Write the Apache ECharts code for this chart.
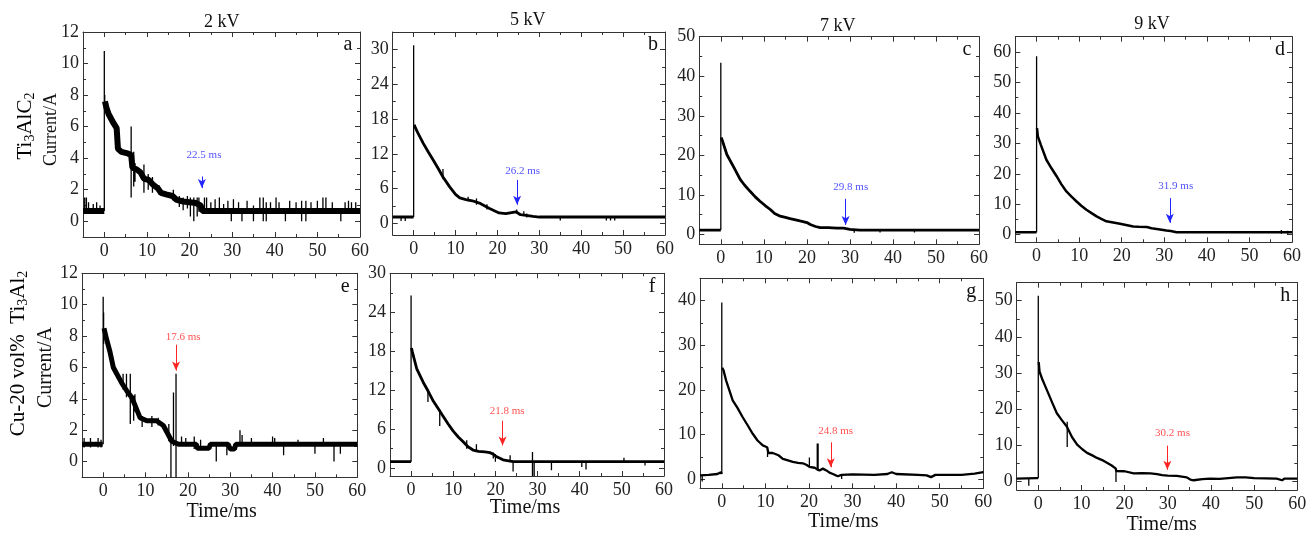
<!DOCTYPE html>
<html>
<head>
<meta charset="utf-8">
<script src="https://cdn.jsdelivr.net/npm/echarts@6/dist/echarts.min.js"></script>
<style>html,body{margin:0;padding:0;background:#fff}#c{width:1316px;height:537px}</style>
</head>
<body>
<div id="c"></div>
<script>
// ---------- tick values ----------
const xTicks = [0, 10, 20, 30, 40, 50, 60];
const xMinor = [-5, 5, 15, 25, 35, 45, 55];
const yTicks2 = [0, 2, 4, 6, 8, 10, 12];
const yMinor2 = [-1, 1, 3, 5, 7, 9, 11];
const yTicks6 = [0, 6, 12, 18, 24, 30];
const yMinor6 = [3, 9, 15, 21, 27, 33];
const yTicks10_50 = [0, 10, 20, 30, 40, 50];
const yTicks10_60 = [0, 10, 20, 30, 40, 50, 60];
const yTicks10_40 = [0, 10, 20, 30, 40];
const yMinor10 = [5, 15, 25, 35, 45, 55, 65];

const columnTitles = ['2 kV', '5 kV', '7 kV', '9 kV'];
const panelLetters = ['a', 'b', 'c', 'd', 'e', 'f', 'g', 'h'];

// ---------- traces [time ms, current A]; '-' breaks the line ----------
const aTrace = [[-5,0.65],[0,0.65],[0,'-'],[0.15,7.6],[0.5,7.2],[1,6.8],[1.6,6.5],[2.2,6.2],[2.9,5.9],[3.2,4.6],[4.0,4.4],[5.5,4.3],[6.3,4.2],[6.6,3.4],[7.5,3.3],[8.5,3.1],[9.3,2.7],[10.5,2.6],[11.5,2.3],[12.5,2.1],[13.3,1.8],[14.5,1.7],[16,1.6],[17,1.35],[18.5,1.25],[20,1.2],[21.5,1.15],[22.6,1.0],[23,0.65],[60,0.65]];
const aSpikes = [[0,0.65,10.8],[0.1,7.0,8.0],[-4.6,0.6,1.5],[-4.2,0.6,1.5],[-3.7,0.6,1.2],[-2.6,0.6,1.1],[-1.8,0.6,1.2],[-1,0.6,1.0],[6.3,1.5,6.0],[6.9,2.2,4.4],[7.2,2.5,3.7],[9.3,1.8,3.6],[10.3,2.0,3.0],[11.3,1.8,2.8],[12.8,1.7,2.3],[16.2,1.3,2.0],[17.6,0.9,1.6],[18.5,0.7,1.5],[19.5,0.8,1.6],[20.2,0.3,1.5],[21,0.0,1.5],[21.8,0.3,1.5],[22.2,0.6,1.5],[23.5,0.6,1.5],[24,0.6,1.5],[25,0.6,1.2],[26,0.6,1.4],[27,0.6,1.5],[28,0.6,1.1],[29,0.6,1.3],[29.8,0.0,0.6],[30.3,0.6,1.4],[31.5,0.6,1.2],[32.3,0.0,0.6],[33.5,0.6,1.3],[35,0.0,1.0],[36.5,0.6,1.5],[37.3,0.0,1.5],[38,0.0,1.2],[39,0.6,1.2],[40.3,0.6,1.5],[41,0.6,1.2],[42.5,0.0,0.6],[43.5,0.6,1.3],[45,0.6,1.2],[46.3,0.0,1.3],[47.3,0.0,1.3],[48.5,0.6,1.2],[50,0.6,1.3],[51.3,0.6,1.5],[52,0.6,1.5],[53.5,0.6,1.2],[55.5,0.0,0.6],[56.5,0.6,1.2],[57.3,0.6,1.3],[58,0.6,1.2],[59,0.6,1.2]];

const bTrace = [[-5,1.1],[0,1.1],[0,'-'],[0.15,17],[0.4,16.5],[1,15.6],[2.3,13.8],[3.5,12.3],[4.7,10.9],[6,9.3],[7,8.0],[8.6,6.3],[10,5.0],[11,4.4],[12.5,4.1],[14,3.9],[15.7,3.5],[17,3.0],[18,2.6],[19.5,2.1],[20.4,1.8],[22,1.7],[24.4,2.0],[25.5,1.5],[26.8,1.4],[28.5,1.2],[30,1.1],[60,1.1]];
const bSpikes = [[0,1.1,30.7],[-3,0.4,1.1],[-2,0.4,1.1],[7,7.6,9.4],[13,3.8,4.6],[15,3.2,4.3],[17.5,2.4,3.3],[24.6,1.7,2.4],[26.3,1.3,2.1],[27,1.0,1.7],[35,0.5,1.1],[46,0.5,1.1],[47,0.5,1.1],[48,0.5,1.1]];

const cTrace = [[-5,1.1],[0,1.1],[0,'-'],[0.1,24.5],[0.4,23.6],[1.4,20.2],[3,17],[4.5,13.9],[5.5,12.5],[6.8,10.9],[8,9.5],[9.1,8.4],[10.3,7.3],[11.5,6.3],[12.5,5.3],[13.8,4.6],[15,4.3],[16.1,4.0],[18.4,3.4],[20,3.0],[20.8,2.5],[22,2.0],[23.1,1.7],[25,1.7],[27,1.6],[28.5,1.6],[30,1.3],[32.3,1.1],[60,1.1]];
const cSpikes = [[0,1.1,43.4],[31,0.4,1.3],[37,0.5,1.1],[45,0.5,1.1]];

const dTrace = [[-5,0.8],[0,0.8],[0,'-'],[0.1,35],[0.3,32.3],[1,29.5],[2.3,24.6],[3.5,21.8],[4.7,19.2],[5.8,16.6],[7,14.2],[8.2,12.5],[9.4,10.9],[10.5,9.5],[11.7,8.2],[13,7],[14.1,6.0],[15.2,5.2],[16.4,4.4],[18,4.0],[19.6,3.6],[21,3.2],[22.7,2.7],[24,2.6],[25.9,2.5],[27,2.1],[28.2,1.9],[30.5,1.4],[31.5,1.2],[32.9,0.8],[60,0.8]];
const dSpikes = [[0,0.8,58.6],[57.5,0.3,1.5],[59,0.3,1.3]];

const eTrace = [[-5,1.1],[-0.1,1.1],[0,'-'],[0.2,8.5],[0.8,7.8],[1.6,7.0],[2.4,6.0],[3.2,5.6],[4.4,5.0],[5.6,4.5],[6.7,4.1],[7.5,3.6],[8.7,2.8],[10.3,2.6],[12.6,2.6],[14.2,2.3],[15,1.9],[16.2,1.3],[17.8,1.1],[22,1.1],[22.2,0.85],[25,0.85],[25.3,1.1],[29.5,1.1],[30,0.8],[31,0.8],[31.3,1.1],[60,1.1]];
const eSpikes = [[0,1.1,10.5],[0.1,7.5,9.5],[-4.5,0.9,1.5],[-3,0.9,1.5],[-1.2,0.9,1.5],[-0.5,0.9,1.4],[3.5,5.3,5.6],[4.7,4.6,5.6],[5.5,4.1,5.6],[6.4,2.4,5.6],[7.2,2.6,4.2],[7.5,3.2,4.3],[9.2,2.2,2.9],[11.5,2.2,2.9],[13,2.3,2.8],[15.5,1.3,2.4],[16.0,-1,1.2],[16.6,1.0,4.4],[17.2,-1,5.6],[18.5,1.0,1.6],[19.5,1.0,1.5],[21.5,0.8,1.6],[23,1.0,1.4],[26.7,0.0,1.0],[29.2,0.4,1.0],[32.3,1.0,2.0],[32.8,1.0,1.7],[35,1.0,1.5],[40,1.0,1.6],[40.5,1.0,1.5],[42.6,0.4,1.0],[46,1.0,1.4],[50,0.5,1.0],[52,1.0,1.5],[54.5,0.0,1.0],[56,0.5,1.0]];

const fTrace = [[-5,1.0],[0,1.0],[0,'-'],[0.1,18.5],[0.3,17.9],[1.35,15.3],[2.9,13.2],[4.1,11.8],[5.3,10.3],[6.5,9.1],[7.6,8.0],[8.8,6.8],[10,5.7],[11.2,4.8],[12.3,4.1],[13.5,3.3],[14.7,2.8],[16,2.6],[17.5,2.5],[18.7,2.4],[19.4,2.2],[20.2,1.8],[21.2,1.5],[21.8,1.3],[24.2,1.0],[60,1.0]];
const fSpikes = [[0,1.0,26.6],[4,10.2,12.0],[6.8,6.5,9.0],[13.2,3.0,4.3],[15.5,2.6,3.7],[19.5,1.5,2.4],[20,1.0,2.2],[23.5,1.0,2.0],[24.2,-0.5,1.0],[28.8,-1.2,2.5],[29.2,-1.2,1.0],[33.3,-0.3,1.0],[40.5,0.2,1.0],[41.5,-0.2,1.0],[50.5,1.0,1.6],[55.5,0.4,1.0]];

const gTrace = [[-5,0.9],[-3,1.0],[-1,1.2],[-0.2,1.6],[0,1.2],[0,'-'],[0.1,25],[0.4,24.4],[1.0,22.1],[2.5,17.7],[3.6,16],[4.8,13.9],[6,12],[7.1,10.2],[8.2,8.7],[9.4,7.6],[10.4,7.2],[10.7,5.9],[11.7,5.9],[13,5.4],[14,4.6],[15,4.3],[16.3,3.9],[17.5,3.7],[18.6,3.6],[19.5,3.2],[20.1,2.8],[21.3,2.6],[22.4,2.0],[23.2,2.4],[24,2.0],[24.7,1.5],[25.5,1.2],[26.6,0.7],[27.5,1.0],[30,1.1],[35,1.0],[38,1.2],[39,1.6],[40,1.2],[45,1.0],[47,0.9],[48,0.5],[49,1.0],[55,1.0],[58,1.3],[60,1.6]];
const gSpikes = [[0,1.2,39.6],[-4.5,-0.5,1.0],[10.5,5.0,7.2],[20.1,2.8,4.9],[21.9,2.0,8.0],[22.1,2.0,8.0],[27.5,0.1,1.0]];

const hTrace = [[-5,0.65],[-0.5,0.8],[0,0.8],[0,'-'],[0.1,33],[0.3,30.3],[1,28],[2.0,25.2],[3.2,21.8],[4.3,18.8],[5.5,16.8],[6.6,15.1],[7.8,12.2],[9.0,10.1],[10.2,8.8],[11.3,7.8],[12.5,7.1],[13.6,6.4],[14.8,5.8],[16.0,5.0],[17,4.3],[17.9,3.5],[18.1,2.75],[20,2.7],[22.1,2.1],[24,2.2],[26,2.1],[27.5,1.9],[28.7,1.6],[30,1.5],[32.1,1.4],[34.4,1.0],[35.2,0.4],[36,0.2],[38,0.5],[39.8,0.65],[42,0.6],[44,0.8],[46,1.0],[48,1.0],[50,0.8],[55.2,0.65],[56.5,0.2],[57,0.65],[60,0.65]];
const hSpikes = [[0,0.8,51.4],[-2.2,-1.3,0.65],[6.7,9.4,16.4],[18,-0.3,3.5]];

// ---------- annotations ----------
const annText   = ['22.5 ms', '26.2 ms', '29.8 ms', '31.9 ms', '17.6 ms', '21.8 ms', '24.8 ms', '30.2 ms'];
const annLabelX = [23.4, 26.0, 30.2, 32.7, 18.9, 22.8, 26.1, 31.1];
const annLabelY = [4.2, 9.1, 12.0, 16.1, 7.95, 8.8, 10.8, 13.3];
const arrowX    = [22.9, 24.7, 29.0, 31.3, 17.2, 21.7, 25.0, 29.9];
const arrowTop  = [2.84, 7.5, 9.0, 12.0, 7.45, 7.3, 8.3, 9.8];
const arrowBot  = [2.1, 3.2, 2.4, 3.9, 5.8, 3.5, 2.7, 3.1];

// ---------- layout ----------
const FONT = 'Liberation Serif';
const BLUE = '#2424ff', RED = '#ff2424';
const panels = [
  {g:{left:83,   top:32,    width:277,   height:205},   yMin:-1,   yMax:12, yT:yTicks2,    yM:yMinor2, tr:aTrace, sp:aSpikes, lw:6,   col:BLUE},
  {g:{left:392.7,top:32,    width:272.3, height:203},   yMin:-2,   yMax:33, yT:yTicks6,    yM:yMinor6, tr:bTrace, sp:bSpikes, lw:2.8, col:BLUE},
  {g:{left:699.3,top:36.7,  width:279.7, height:207.6}, yMin:-2.5, yMax:50, yT:yTicks10_50,yM:yMinor10,tr:cTrace, sp:cSpikes, lw:2.8, col:BLUE},
  {g:{left:1015.3,top:36.7, width:276.7, height:205.6}, yMin:-2.5, yMax:65, yT:yTicks10_60,yM:yMinor10,tr:dTrace, sp:dSpikes, lw:2.5, col:BLUE},
  {g:{left:82,   top:273.3, width:275.3, height:204},   yMin:-1,   yMax:12, yT:yTicks2,    yM:yMinor2, tr:eTrace, sp:eSpikes, lw:5,   col:RED},
  {g:{left:390,  top:273.3, width:274,   height:202.7}, yMin:-1.2, yMax:30, yT:yTicks6,    yM:yMinor6, tr:fTrace, sp:fSpikes, lw:2.8, col:RED},
  {g:{left:700,  top:278.3, width:283.3, height:210},   yMin:-2,   yMax:45, yT:yTicks10_40,yM:yMinor10,tr:gTrace, sp:gSpikes, lw:2.3, col:RED},
  {g:{left:1016.7,top:282.7,width:280.6, height:207.3}, yMin:-2.5, yMax:55, yT:yTicks10_50,yM:yMinor10,tr:hTrace, sp:hSpikes, lw:2.3, col:RED}
];

const AX = '#333';
const grids = [], xAxes = [], yAxes = [], series = [], graphics = [];

function mkAxis(dim, i, pos, ticks, minor, min, max, labels) {
  return {
    gridIndex: i, type: 'value', min: min, max: max, position: pos,
    axisLine: {show: !minor, onZero: false, lineStyle: {color: AX, width: 1}},
    axisTick: {show: true, inside: true, length: minor ? 3 : 5, customValues: ticks, lineStyle: {color: AX, width: 1}},
    axisLabel: {show: labels, customValues: ticks, fontFamily: FONT, fontSize: 18, color: '#222', margin: dim === 'x' ? 5 : 4},
    splitLine: {show: false}, minorTick: {show: false}
  };
}

panels.forEach((p, i) => {
  grids.push(Object.assign({containLabel: false}, p.g));
  xAxes.push(mkAxis('x', i, 'bottom', xTicks, false, -5, 60, true));
  xAxes.push(mkAxis('x', i, 'top', xTicks, false, -5, 60, false));
  xAxes.push(mkAxis('x', i, 'bottom', xMinor, true, -5, 60, false));
  xAxes.push(mkAxis('x', i, 'top', xMinor, true, -5, 60, false));
  yAxes.push(mkAxis('y', i, 'left', p.yT, false, p.yMin, p.yMax, true));
  yAxes.push(mkAxis('y', i, 'right', p.yT, false, p.yMin, p.yMax, false));
  yAxes.push(mkAxis('y', i, 'left', p.yM, true, p.yMin, p.yMax, false));
  yAxes.push(mkAxis('y', i, 'right', p.yM, true, p.yMin, p.yMax, false));

  const xi = 4 * i, yi = 4 * i;
  series.push({type: 'line', xAxisIndex: xi, yAxisIndex: yi, data: p.tr, showSymbol: false, symbol: 'none',
    connectNulls: false, lineStyle: {color: '#000', width: p.lw, join: 'bevel'}, animation: false, silent: true});
  const spikeData = [];
  p.sp.forEach(s => { spikeData.push([s[0], s[1]], [s[0], s[2]], [s[0], '-']); });
  series.push({type: 'line', xAxisIndex: xi, yAxisIndex: yi, data: spikeData, showSymbol: false, symbol: 'none',
    connectNulls: false, lineStyle: {color: '#000', width: 1.3}, animation: false, silent: true});
  series.push({type: 'scatter', xAxisIndex: xi, yAxisIndex: yi, data: [[annLabelX[i], annLabelY[i]]],
    symbolSize: 1, itemStyle: {color: 'rgba(0,0,0,0)'}, animation: false, silent: true,
    label: {show: true, position: 'inside', formatter: annText[i], color: p.col, fontFamily: FONT, fontSize: 11},
    markLine: {silent: true, animation: false, symbol: ['none', 'arrow'], symbolSize: [6, 9],
      lineStyle: {color: p.col, width: 1, type: 'solid'}, label: {show: false},
      data: [[{coord: [arrowX[i], arrowTop[i]]}, {coord: [arrowX[i], arrowBot[i]]}]]}
  });

  graphics.push({type: 'text', x: p.g.left + p.g.width - 12, y: p.g.top + 13,
    style: {text: panelLetters[i], font: '20px ' + FONT, fill: '#111', textAlign: 'center', textVerticalAlign: 'middle'}});
});

const titlePos = [[221.7, 22], [527.7, 20.7], [837.7, 26.7], [1152, 24]];
columnTitles.forEach((t, k) => {
  graphics.push({type: 'text', x: titlePos[k][0], y: titlePos[k][1],
    style: {text: t, font: '18px ' + FONT, fill: '#111', textAlign: 'center', textVerticalAlign: 'middle'}});
});
const timePos = [[221.7, 511.7], [525, 508], [843.3, 521.7], [1161.7, 525]];
timePos.forEach(tp => {
  graphics.push({type: 'text', x: tp[0], y: tp[1],
    style: {text: 'Time/ms', font: '20px ' + FONT, fill: '#111', textAlign: 'center', textVerticalAlign: 'middle'}});
});
// y axis names & row labels
graphics.push({type: 'text', x: 51.7, y: 129.5, rotation: Math.PI / 2,
  style: {text: 'Current/A', font: '18px ' + FONT, fill: '#111', textAlign: 'center', textVerticalAlign: 'middle'}});
graphics.push({type: 'text', x: 46, y: 367.5, rotation: Math.PI / 2,
  style: {text: 'Current/A', font: '20px ' + FONT, fill: '#111', textAlign: 'center', textVerticalAlign: 'middle'}});
const richStyle = {
  n: {fontFamily: FONT, fontSize: 21, lineHeight: 24, color: '#111'},
  s: {fontFamily: FONT, fontSize: 14, lineHeight: 14, color: '#111', verticalAlign: 'bottom'}
};
graphics.push({type: 'text', x: 25, y: 126, rotation: Math.PI / 2,
  style: {text: '{n|Ti}{s|3}{n|AlC}{s|2}', rich: richStyle, textAlign: 'center', textVerticalAlign: 'middle'}});
graphics.push({type: 'text', x: 18.3, y: 353.5, rotation: Math.PI / 2,
  style: {text: '{n|Cu-20 vol%  Ti}{s|3}{n|Al}{s|2}', rich: richStyle, textAlign: 'center', textVerticalAlign: 'middle'}});

const chart = echarts.init(document.getElementById('c'), null, {renderer: 'canvas'});
chart.setOption({
  animation: false,
  backgroundColor: '#fff',
  grid: grids, xAxis: xAxes, yAxis: yAxes, series: series, graphic: graphics
});
</script>
</body>
</html>
